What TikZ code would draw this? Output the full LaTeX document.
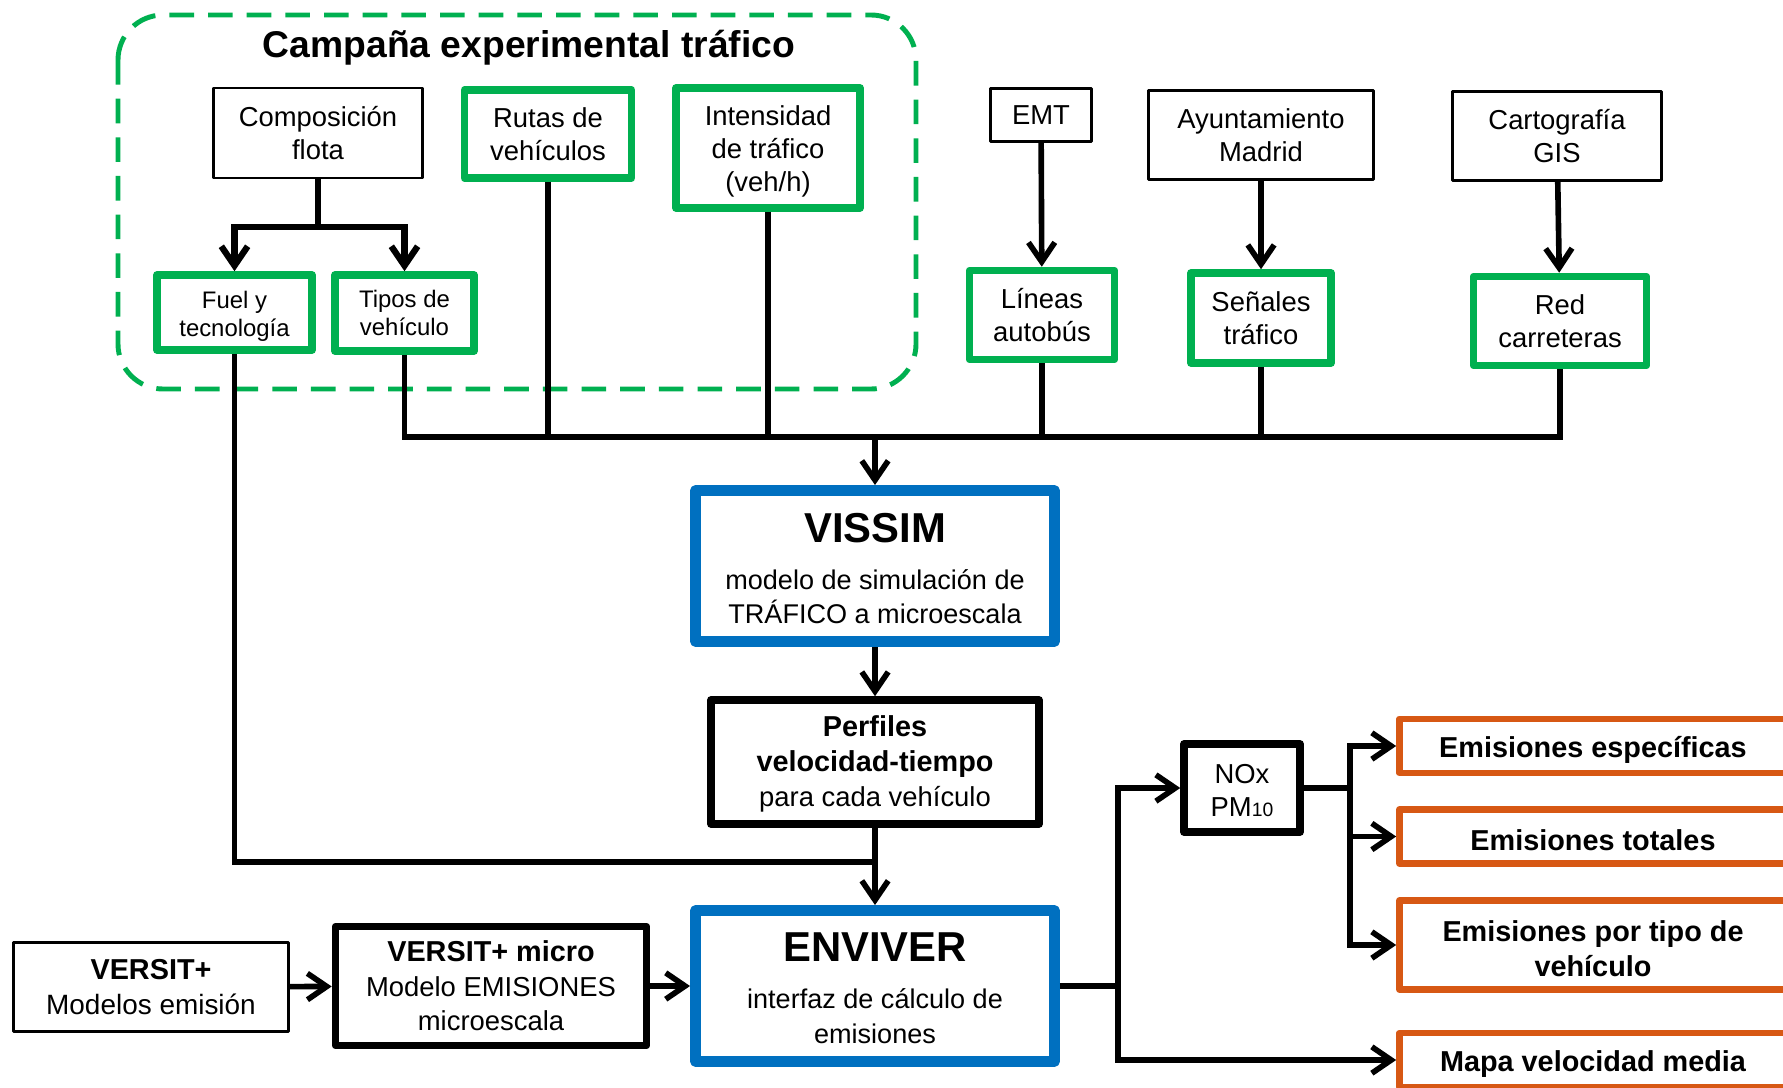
\documentclass[tikz,border=0pt]{standalone}
\usepackage{fontspec}
\setmainfont{Liberation Sans}
\usepackage{tikz}
\usetikzlibrary{arrows.meta}
\definecolor{pptGreen}{RGB}{0,176,80}
\definecolor{pptBlue}{RGB}{0,112,192}
\definecolor{pptOrange}{RGB}{215,88,20}
\newcommand{\txtN}{\fontsize{15.6}{19}\selectfont}
\newcommand{\txtS}{\fontsize{13.6}{16.2}\selectfont}
\newcommand{\txtB}{\fontsize{16.4}{19.8}\selectfont\bfseries}
\newcommand{\txtM}{\fontsize{15.4}{19.8}\selectfont}
\newcommand{\txtBig}{\fontsize{23.8}{26}\selectfont\bfseries}
\newcommand{\txtTitle}{\fontsize{21.2}{24}\selectfont\bfseries}
\newcommand{\lift}[1]{\rule{0pt}{#1}}

\begin{document}
\begin{tikzpicture}[
  srcbox/.style={rectangle, draw=black, line width=1.5pt, line join=round,
                 align=center, font=\txtN, inner sep=0pt},
  greenbox/.style={rectangle, draw=pptGreen, line width=4.3pt, line join=round,
                   align=center, font=\txtN, inner sep=0pt},
  bluebox/.style={rectangle, draw=pptBlue, line width=6.5pt, line join=round,
                  align=center, font=\txtM, inner sep=0pt,
                  minimum width=7.17cm, minimum height=3.01cm},
  blackbox/.style={rectangle, draw=black, line width=4.3pt, line join=round,
                   align=center, font=\txtN, inner sep=0pt},
  outbox/.style={rectangle, draw=pptOrange, line width=3.8pt, line join=round,
                 align=center, font=\txtB, inner sep=0pt,
                 minimum width=7.74cm, minimum height=1.08cm},
  conn/.style={line width=3.2pt},
  arr/.style={conn, -{Straight Barb[length=11pt,width=15pt]}},
]
  \useasboundingbox[fill=white] (0,0) rectangle (35.66,-21.74);

  % Campaign frame
  \draw[pptGreen, line width=2.8pt, dash pattern=on 14pt off 8pt, rounded corners=0.9cm]
    (2.36,-0.30) rectangle (18.32,-7.78);
  \node[font=\txtTitle] (camptitle) at (10.58,-0.95) {Campaña experimental tráfico};

  % Sources
  \node[srcbox, minimum width=4.18cm, minimum height=1.80cm] (comp) at (6.36,-2.66) {Composición\\flota};
  \node[greenbox, minimum width=3.34cm, minimum height=1.76cm] (rutas) at (10.96,-2.68) {Rutas de\\vehículos};
  \node[greenbox, minimum width=3.68cm, minimum height=2.40cm] (inten) at (15.36,-2.96) {\lift{15.3pt}Intensidad\\de tráfico\\(veh/h)};
  \node[greenbox, font=\txtS, minimum width=3.10cm, minimum height=1.50cm] (fuel) at (4.69,-6.25) {\lift{14.4pt}Fuel y\\tecnología};
  \node[greenbox, font=\txtS, minimum width=2.78cm, minimum height=1.52cm] (tipos) at (8.09,-6.26) {Tipos de\\vehículo};

  \node[srcbox, minimum width=2.03cm, minimum height=1.05cm] (emt) at (20.82,-2.30) {EMT};
  \node[srcbox, minimum width=4.49cm, minimum height=1.77cm] (ayto) at (25.22,-2.70) {Ayuntamiento\\Madrid};
  \node[srcbox, minimum width=4.17cm, minimum height=1.79cm] (carto) at (31.14,-2.72) {Cartografía\\GIS};
  \node[greenbox, minimum width=2.90cm, minimum height=1.78cm] (lineas) at (20.84,-6.30) {Líneas\\autobús};
  \node[greenbox, minimum width=2.80cm, minimum height=1.80cm] (senales) at (25.22,-6.36) {Señales\\tráfico};
  \node[greenbox, minimum width=3.46cm, minimum height=1.78cm] (red) at (31.20,-6.42) {Red\\carreteras};

  % Models
  \node[bluebox] (vissim) at (17.50,-11.32)
    {\lift{19.5pt}{\txtBig VISSIM}\\[7pt]modelo de simulación de\\TRÁFICO a microescala};
  \node[blackbox, minimum width=6.56cm, minimum height=2.48cm, font=\fontsize{16.4}{20}\selectfont] (perfiles) at (17.50,-15.24)
    {\lift{14pt}\textbf{Perfiles}\\\textbf{velocidad-tiempo}\\{\txtN para cada vehículo}};
  \node[bluebox] (enviver) at (17.50,-19.72)
    {\lift{18.5pt}{\txtBig ENVIVER}\\[7pt]interfaz de cálculo de\\emisiones};
  \node[blackbox, minimum width=6.22cm, minimum height=2.38cm, font=\fontsize{15.6}{19.6}\selectfont] (micro) at (9.82,-19.72)
    {{\txtB VERSIT+ micro}\\Modelo EMISIONES\\microescala};
  \node[srcbox, minimum width=5.51cm, minimum height=1.79cm, font=\fontsize{15.9}{19.6}\selectfont] (versit) at (3.02,-19.74)
    {{\txtB VERSIT+}\\Modelos emisión};
  \node[blackbox, minimum width=2.32cm, minimum height=1.76cm] (nox) at (24.84,-15.76)
    {\lift{14pt}NOx\\PM{\fontsize{11}{11}\selectfont 10}};

  % Outputs
  \node[outbox] (esp)  at (31.86,-14.92) {\lift{16pt}Emisiones específicas};
  \node[outbox] (tot)  at (31.86,-16.73) {\lift{16pt}Emisiones totales};
  \node[outbox, minimum height=1.78cm] (tipo) at (31.86,-18.90) {\lift{16pt}Emisiones por tipo de\\vehículo};
  \node[outbox] (mapa) at (31.86,-21.20) {\lift{16pt}Mapa velocidad media};

  % Junction points
  \coordinate (split) at (6.36,-4.54);
  \coordinate (bus)   at (17.50,-8.74);
  \coordinate (merge) at (17.50,-17.24);
  \coordinate (fork)  at (22.36,-19.72);
  \coordinate (fork2) at (27.00,-15.76);

  % Campaign connectors
  \draw[conn, line width=3.6pt] (comp.south) -- (split);
  \draw[arr, line width=3.6pt] (split) -| (fuel.north);
  \draw[arr, line width=3.6pt] (split) -| (tipos.north);
  \draw[arr] (emt) -- (lineas);
  \draw[arr] (ayto) -- (senales);
  \draw[arr] (carto) -- (red);

  % Bus to VISSIM
  \draw[conn] (tipos.south) |- (red.south |- bus) -- (red.south);
  \foreach \n in {rutas, inten, lineas, senales}
    \draw[conn] (\n.south) -- (\n.south |- bus);
  \draw[arr] (bus) -- (vissim);
  \draw[arr] (vissim) -- (perfiles);
  \draw[conn] (fuel.south) |- (merge);
  \draw[arr] (perfiles) -- (enviver);

  % Emission chain
  \draw[arr] (versit) -- (micro);
  \draw[arr] (micro) -- (enviver);
  \draw[conn] (enviver.east) -- (fork);
  \draw[arr] (fork) |- (nox);
  \draw[arr] (fork) |- (mapa);
  \draw[conn] (nox.east) -- (fork2);
  \draw[arr] (fork2) |- (esp);
  \draw[arr] (fork2) |- (tot);
  \draw[arr] (fork2) |- (tipo);
\end{tikzpicture}
\end{document}
